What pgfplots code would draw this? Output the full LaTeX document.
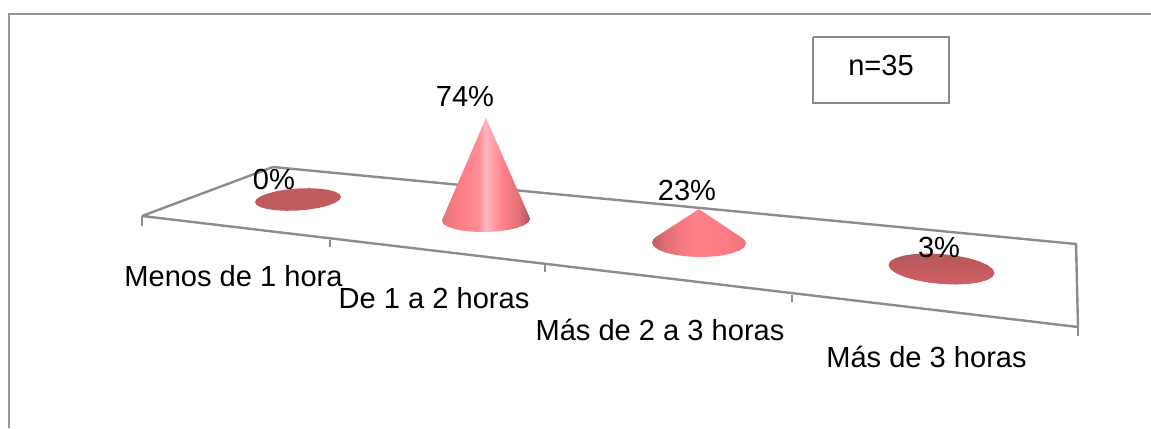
\documentclass[border=0pt]{standalone}
\usepackage{pgfplots}
\usepackage{pgfplotstable}
\usepackage{fontspec}
\setmainfont{Liberation Sans}
\pgfplotsset{compat=1.18}

\definecolor{frameline}{HTML}{969696}
\definecolor{floorline}{HTML}{8C8C8C}
\definecolor{flatcone}{HTML}{C05C60}

\tikzset{lab/.style={anchor=base, inner sep=0pt, text=black, font=\fontsize{21.8pt}{26pt}\selectfont}}

% Horizontal light across the cones; stops 25bp-75bp span the shape
\pgfdeclarehorizontalshading{tallcone}{100bp}{
  color(0bp)=(rgb,255:red,232;green,116;blue,124);
  color(25bp)=(rgb,255:red,232;green,116;blue,124);
  color(37bp)=(rgb,255:red,255;green,126;blue,135);
  color(46bp)=(rgb,255:red,255;green,143;blue,151);
  color(50bp)=(rgb,255:red,255;green,182;blue,190);
  color(54bp)=(rgb,255:red,255;green,160;blue,168);
  color(60bp)=(rgb,255:red,255;green,127;blue,136);
  color(69bp)=(rgb,255:red,225;green,110;blue,118);
  color(75bp)=(rgb,255:red,165;green,86;blue,94);
  color(100bp)=(rgb,255:red,165;green,86;blue,94)}
\pgfdeclarehorizontalshading{lowcone}{100bp}{
  color(0bp)=(rgb,255:red,190;green,94;blue,100);
  color(25bp)=(rgb,255:red,190;green,94;blue,100);
  color(32bp)=(rgb,255:red,222;green,110;blue,116);
  color(42bp)=(rgb,255:red,248;green,123;blue,131);
  color(50bp)=(rgb,255:red,255;green,128;blue,136);
  color(65bp)=(rgb,255:red,251;green,124;blue,132);
  color(75bp)=(rgb,255:red,232;green,116;blue,124);
  color(100bp)=(rgb,255:red,232;green,116;blue,124)}

% Outlines on a unit circle: c, s around the base, h=1 marks the apex
\pgfplotstableread{
c s h
0 0 1
-.993 -.122 0
-1 0 0
-.966 .259 0
-.866 .5 0
-.707 .707 0
-.5 .866 0
-.259 .966 0
0 1 0
.259 .966 0
.5 .866 0
.707 .707 0
.866 .5 0
.966 .259 0
1 0 0
.993 -.122 0
}\tallshape
\pgfplotstableread{
c s h
0 0 1
-.914 -.407 0
-.978 -.208 0
-1 0 0
-.966 .259 0
-.866 .5 0
-.707 .707 0
-.5 .866 0
-.259 .966 0
0 1 0
.259 .966 0
.5 .866 0
.707 .707 0
.866 .5 0
.966 .259 0
1 0 0
.978 -.208 0
.914 -.407 0
}\lowshape
\pgfplotstableread{
c s h
0 0 1
0 -1 0
-.259 -.966 0
-.5 -.866 0
-.707 -.707 0
-.866 -.5 0
-.966 -.259 0
-1 0 0
-.966 .259 0
-.866 .5 0
-.707 .707 0
-.5 .866 0
-.259 .966 0
0 1 0
.259 .966 0
.5 .866 0
.707 .707 0
.866 .5 0
.966 .259 0
1 0 0
.966 -.259 0
.866 -.5 0
.707 -.707 0
.5 -.866 0
.259 -.966 0
0 -1 0
}\flatshape

% #1 outline, #2 cx, #3 cy, #4 rx, #5 ry, #6 base slope, #7 percentage, #8 paint
\newcommand{\cone}[8]{%
  \addplot[draw=none, forget plot, #8] table[
    x expr={#2+#4*\thisrow{c}},
    y expr={#3+#5*\thisrow{s}+#6*#4*\thisrow{c}-0.03136*#4*#7*\thisrow{h}}
  ] {#1};
}

\begin{document}
\begin{tikzpicture}
\path[use as bounding box] (0,0) rectangle (863.25pt,321pt);
\begin{axis}[
  at={(0,0)}, anchor=south west,
  scale only axis, width=863.25pt, height=321pt,
  xmin=0, xmax=1151, ymin=0, ymax=428, y dir=reverse,
  hide axis, clip=false, no markers,
]
% outer frame
\addplot[frameline, line width=1.6pt, forget plot] coordinates {(9,428) (9,14) (1151,14)};

% chart floor
\addplot[floorline, line width=1.8pt, line join=miter, forget plot] coordinates {(142,216) (273,167) (1076,244) (1078,327) (142,216)};

% category ticks
\addplot[floorline, line width=0.8pt, forget plot] coordinates {(142,216) (142,226)};
\addplot[floorline, line width=0.8pt, forget plot] coordinates {(330,240) (330,247)};
\addplot[floorline, line width=0.8pt, forget plot] coordinates {(545,265) (545,272)};
\addplot[floorline, line width=0.8pt, forget plot] coordinates {(792,295) (792,302)};
\addplot[floorline, line width=0.8pt, forget plot] coordinates {(1078,327) (1078,336)};

% cones: 0%, 74%, 23%, 3%
\cone{\flatshape}{298}{199.5}{43}{11}{-0.06}{0}{fill=flatcone}
\cone{\tallshape}{486}{220}{44}{12}{-0.02}{74}{shading=tallcone, shade}
\cone{\lowshape}{699}{243}{47}{14}{0.01}{23}{shading=lowcone, shade}
\cone{\flatshape}{941.5}{269}{53}{15}{0.076}{3}{top color=flatcone!95!black, bottom color=flatcone!85!red!90!white}

% category names
\node[lab] at (axis cs:233.5,286) {Menos de 1 hora};
\node[lab] at (axis cs:434,308) {De 1 a 2 horas};
\node[lab] at (axis cs:660,340) {Más de 2 a 3 horas};
\node[lab] at (axis cs:926.5,367) {Más de 3 horas};

% value labels
\node[lab] at (axis cs:274,189.5) {0\%};
\node[lab] at (axis cs:465,106) {74\%};
\node[lab] at (axis cs:687,200) {23\%};
\node[lab] at (axis cs:939,257) {3\%};

% sample size box
\addplot[floorline, line width=1.6pt, fill=white, forget plot] coordinates {(813,37) (949,37) (949,103) (813,103) (813,37)};
\node[lab] at (axis cs:881,75) {n=35};
\end{axis}
\end{tikzpicture}
\end{document}
